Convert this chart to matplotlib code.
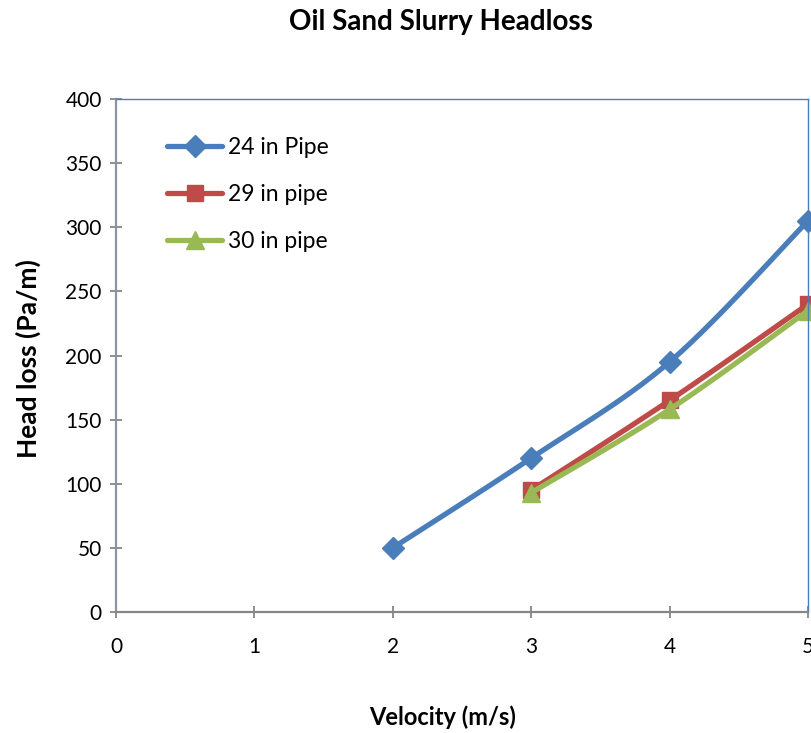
import numpy as np
import matplotlib.pyplot as plt

plt.rcParams['font.family'] = ['Lato', 'DejaVu Sans']

# measured headloss for each pipe size
vel_24 = [2, 3, 4, 5]
loss_24 = [50, 120, 195, 305]
vel_29 = [3, 4, 5]
loss_29 = [95, 165, 240]
vel_30 = [3, 4, 5]
loss_30 = [93, 158, 235]

x_ticks = [0, 1, 2, 3, 4, 5]
y_ticks = [0, 50, 100, 150, 200, 250, 300, 350, 400]


def smooth(xs, ys, n=30):
    # Bezier smoothing through the points, like a spreadsheet "smoothed line"
    xs = np.asarray(xs, float)
    ys = np.asarray(ys, float)
    px = np.concatenate([[xs[0]], xs, [xs[-1]]])
    py = np.concatenate([[ys[0]], ys, [ys[-1]]])
    t = np.linspace(0, 1, n)[:, None]
    out_x, out_y = [], []
    for i in range(1, len(xs)):
        p0 = np.array([px[i], py[i]])
        p3 = np.array([px[i + 1], py[i + 1]])
        p1 = p0 + (p3 - np.array([px[i - 1], py[i - 1]])) / 6
        p2 = p3 - (np.array([px[i + 2], py[i + 2]]) - p0) / 6
        c = ((1 - t) ** 3) * p0 + 3 * ((1 - t) ** 2) * t * p1 + 3 * (1 - t) * t ** 2 * p2 + t ** 3 * p3
        out_x.extend(c[:, 0])
        out_y.extend(c[:, 1])
    return out_x, out_y


fig = plt.figure(figsize=(8.12, 7.33), dpi=100)
ax = fig.add_axes([116 / 812, 1 - 612 / 733, (808 - 116) / 812, (612 - 99) / 733])

series = [
    (vel_24, loss_24, '#4a7ebb', 'D', 11, '24 in Pipe'),
    (vel_29, loss_29, '#be4b48', 's', 11.5, '29 in pipe'),
    (vel_30, loss_30, '#98b954', '^', 13, '30 in pipe'),
]
for xs, ys, col, mk, ms, lab in series:
    sx, sy = smooth(xs, ys)
    ax.plot(sx, sy, color=col, lw=3.8, solid_capstyle='round', clip_on=False)
    ax.plot(xs, ys, ls='none', marker=mk, ms=ms, color=col, clip_on=False)
    ax.plot([], [], color=col, lw=3.8, marker=mk, ms=ms, label=lab, solid_capstyle='round')

ax.set_xlim(0, 5)
ax.set_ylim(0, 400)
ax.set_xticks(x_ticks)
ax.set_yticks(y_ticks)
ax.tick_params(direction='inout', length=8.6, width=1.3, colors='#868686',
               labelcolor='black', labelsize=15)
ax.tick_params(axis='y', pad=6)
ax.tick_params(axis='x', pad=13.5)
for s in ['left', 'bottom']:
    ax.spines[s].set_color('#868686')
    ax.spines[s].set_linewidth(1.6)
ax.spines['left'].set_color('#8a94a2')
for s in ['top', 'right']:
    ax.spines[s].set_color('#4a7ebb')
    ax.spines[s].set_linewidth(1)

leg = ax.legend(loc='upper left', bbox_to_anchor=(0.074, 0.925), frameon=False,
                fontsize=16.5, handlelength=2.4, handletextpad=0.25, labelspacing=1.13,
                borderaxespad=0, borderpad=0)

fig.text(441 / 812, 1 - 22 / 733, 'Oil Sand Slurry Headloss', ha='center', va='center',
         fontsize=20, fontweight='bold')
fig.text(443 / 812, 1 - 717 / 733, 'Velocity (m/s)', ha='center', va='center',
         fontsize=17, fontweight='bold')
fig.text(28 / 812, 1 - 359 / 733, 'Head loss (Pa/m)', ha='center', va='center',
         rotation=90, fontsize=19, fontweight='bold')

fig.savefig('out.png', dpi=100)
